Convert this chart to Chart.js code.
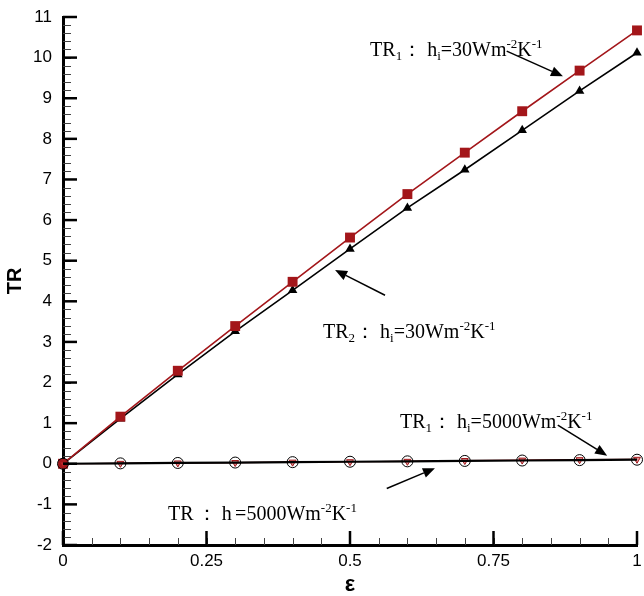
<!DOCTYPE html>
<html><head><meta charset="utf-8">
<script src="https://cdn.jsdelivr.net/npm/chart.js@4.4.1/dist/chart.umd.min.js"></script>
<style>html,body{margin:0;padding:0;background:#fff;overflow:hidden;}</style>
</head><body>
<canvas id="c" width="644" height="596"></canvas>
<script>
// ---- data ----
const eps       = [0, 0.1, 0.2, 0.3, 0.4, 0.5, 0.6, 0.7, 0.8, 0.9, 1.0];
const tr1_h30   = [0, 1.16, 2.29, 3.39, 4.48, 5.57, 6.64, 7.66, 8.68, 9.68, 10.67];
const tr2_h30   = [0, 1.11, 2.20, 3.26, 4.27, 5.29, 6.30, 7.24, 8.21, 9.18, 10.12];
const tr1_h5000 = [0, 0.01, 0.02, 0.03, 0.04, 0.05, 0.06, 0.08, 0.09, 0.10, 0.11];
const tr2_h5000 = [0, 0.01, 0.02, 0.03, 0.04, 0.05, 0.06, 0.07, 0.08, 0.09, 0.10];
const xTicks = [0, 0.25, 0.5, 0.75, 1];
const xTickLabels = ['0', '0.25', '0.5', '0.75', '1'];
const yTicks = [-2, -1, 0, 1, 2, 3, 4, 5, 6, 7, 8, 9, 10, 11];
const xTitle = 'ε';
const yTitle = 'TR';

// annotation labels (anchored in data units) and arrows
const labels = [
  {x: 0.535, y: 10.03, runs: [['TR'], ['1','sub'], ['：'], [' h'], ['i','sub'], ['=30Wm'], ['-2','sup'], ['K'], ['-1','sup']]},
  {x: 0.453, y: 3.09,  runs: [['TR'], ['2','sub'], ['：'], [' h'], ['i','sub'], ['=30Wm'], ['-2','sup'], ['K'], ['-1','sup']]},
  {x: 0.587, y: 0.87,  runs: [['TR'], ['1','sub'], ['：'], [' h'], ['i','sub'], ['=5000Wm'], ['-2','sup'], ['K'], ['-1','sup']]},
  {x: 0.183, y: -1.39, runs: [['TR'], [' ','sub'], ['：'], [' h'], [' ','sub'], ['=5000Wm'], ['-2','sup'], ['K'], ['-1','sup']]}
];
const arrows = [
  {x1: 0.773, y1: 10.16, x2: 0.871, y2: 9.54},
  {x1: 0.561, y1: 4.15,  x2: 0.474, y2: 4.77},
  {x1: 0.862, y1: 0.95,  x2: 0.948, y2: 0.20},
  {x1: 0.564, y1: -0.61, x2: 0.648, y2: -0.11}
];

const RED = '#a3161a';
const pts = arr => eps.map((e, i) => ({x: e, y: arr[i]}));

const annotPlugin = {
  id: 'annot',
  afterDraw(chart) {
    const ctx = chart.ctx, xs = chart.scales.x, ys = chart.scales.y;
    const area = chart.chartArea;
    ctx.save();
    // minor + major ticks (inward)
    ctx.strokeStyle = '#444'; ctx.lineWidth = 1;
    for (let v = 0; v <= 1.0001; v += 0.05) {
      const px = Math.round(xs.getPixelForValue(v)) + 0.5;
      ctx.beginPath(); ctx.moveTo(px, area.bottom); ctx.lineTo(px, area.bottom - 7); ctx.stroke();
    }
    for (let v = -2; v <= 11.0001; v += 0.2) {
      const py = Math.round(ys.getPixelForValue(v)) + 0.5;
      ctx.beginPath(); ctx.moveTo(area.left, py); ctx.lineTo(area.left + 8, py); ctx.stroke();
    }
    ctx.strokeStyle = '#000'; ctx.lineWidth = 2.5;
    xTicks.forEach(v => {
      const px = xs.getPixelForValue(v);
      ctx.beginPath(); ctx.moveTo(px, area.bottom); ctx.lineTo(px, area.bottom - 14); ctx.stroke();
    });
    yTicks.forEach(v => {
      const py = ys.getPixelForValue(v);
      ctx.beginPath(); ctx.moveTo(area.left, py); ctx.lineTo(area.left + 14, py); ctx.stroke();
    });
    // labels
    ctx.fillStyle = '#000';
    ctx.textBaseline = 'alphabetic';
    ctx.textAlign = 'left';
    labels.forEach(l => {
      let cx = xs.getPixelForValue(l.x);
      const by = ys.getPixelForValue(l.y);
      l.runs.forEach(r => {
        let size = 20, dy = 0;
        if (r[1] === 'sub') { size = 13; dy = 4; }
        if (r[1] === 'sup') { size = 13; dy = -8; }
        ctx.font = size + 'px "Liberation Serif", "Times New Roman", serif';
        ctx.fillText(r[0], cx, by + dy);
        cx += ctx.measureText(r[0]).width;
      });
    });
    // arrows
    ctx.strokeStyle = '#000'; ctx.lineWidth = 1.5;
    arrows.forEach(a => {
      const x1 = xs.getPixelForValue(a.x1), y1 = ys.getPixelForValue(a.y1);
      const x2 = xs.getPixelForValue(a.x2), y2 = ys.getPixelForValue(a.y2);
      const ang = Math.atan2(y2 - y1, x2 - x1);
      const L = 12, W = 5;
      const bx = x2 - L * Math.cos(ang), by = y2 - L * Math.sin(ang);
      ctx.beginPath(); ctx.moveTo(x1, y1); ctx.lineTo(bx, by); ctx.stroke();
      ctx.beginPath();
      ctx.moveTo(x2, y2);
      ctx.lineTo(bx + W * Math.sin(ang), by - W * Math.cos(ang));
      ctx.lineTo(bx - W * Math.sin(ang), by + W * Math.cos(ang));
      ctx.closePath(); ctx.fill();
    });
    ctx.restore();
  }
};

new Chart(document.getElementById('c'), {
  type: 'line',
  data: {
    datasets: [
      {data: pts(tr2_h5000), borderColor: '#000', borderWidth: 2.2, pointStyle: 'circle', pointRadius: 5.5,
       pointBackgroundColor: 'rgba(0,0,0,0)', pointBorderColor: '#000', pointBorderWidth: 1, clip: false},
      {data: pts(tr1_h5000), borderColor: RED, borderWidth: 1.2, pointStyle: 'triangle', pointRotation: 180, pointRadius: 4,
       pointBackgroundColor: 'rgba(200,60,60,0.55)', pointBorderColor: RED, pointBorderWidth: 1, clip: false},
      {data: pts(tr1_h30), borderColor: RED, borderWidth: 1.6, pointStyle: 'rect', pointRadius: 7,
       pointBackgroundColor: RED, pointBorderColor: RED, pointBorderWidth: 0, clip: false},
      {data: pts(tr2_h30), borderColor: '#000', borderWidth: 1.6, pointStyle: 'triangle', pointRadius: 5.5,
       pointBackgroundColor: '#000', pointBorderColor: '#000', pointBorderWidth: 0, clip: false}
    ]
  },
  options: {
    responsive: false, animation: false, devicePixelRatio: 1,
    layout: {padding: {top: 17, right: 7, left: 0, bottom: 0}},
    plugins: {legend: {display: false}, tooltip: {enabled: false}},
    elements: {line: {tension: 0}},
    scales: {
      x: {
        type: 'linear', min: 0, max: 1,
        afterBuildTicks: s => { s.ticks = xTicks.map(v => ({value: v})); },
        afterFit: s => { s.height = 51; s.paddingRight = 0; s.paddingLeft = 0; },
        grid: {drawOnChartArea: false, drawTicks: false},
        border: {display: true, color: '#000', width: 3},
        ticks: {color: '#000', padding: 6, maxRotation: 0, autoSkip: false,
                callback: (v, i) => xTickLabels[i],
                font: {family: '"Liberation Sans", Arial, sans-serif', size: 17}},
        title: {display: true, text: xTitle, color: '#000', padding: {top: 0, bottom: 0},
                font: {family: '"Liberation Sans", Arial, sans-serif', size: 22, weight: 'bold', lineHeight: 1.0}}
      },
      y: {
        type: 'linear', min: -2, max: 11,
        afterBuildTicks: s => { s.ticks = yTicks.map(v => ({value: v})); },
        afterFit: s => { s.width = 63; s.paddingTop = 0; s.paddingBottom = 0; },
        grid: {drawOnChartArea: false, drawTicks: false},
        border: {display: true, color: '#000', width: 3},
        ticks: {color: '#000', padding: 11, autoSkip: false,
                callback: v => String(v),
                font: {family: '"Liberation Sans", Arial, sans-serif', size: 17}},
        title: {display: true, text: yTitle, color: '#000', padding: {top: 3, bottom: 0},
                font: {family: '"Liberation Sans", Arial, sans-serif', size: 20, weight: 'bold'}}
      }
    }
  },
  plugins: [annotPlugin]
});
</script>
</body></html>
